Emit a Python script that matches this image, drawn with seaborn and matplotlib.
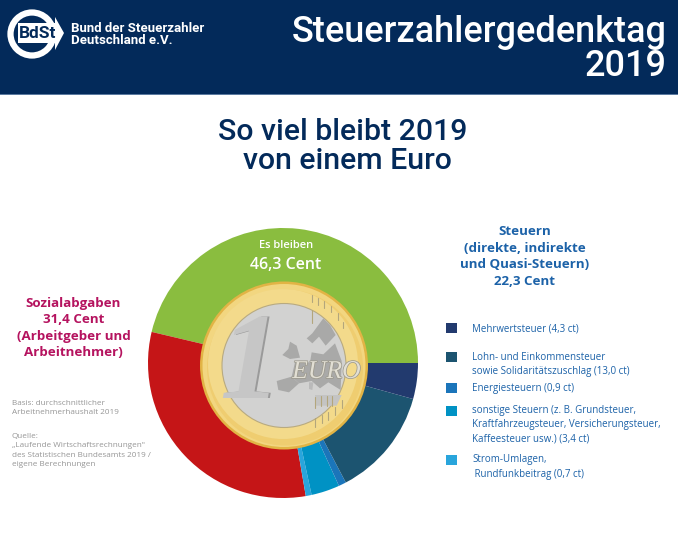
import matplotlib
matplotlib.use("Agg")
import matplotlib.pyplot as plt
import matplotlib.patheffects as pe
from matplotlib.patches import Circle, Polygon, Rectangle
import pandas as pd
import seaborn as sns

# ------------------------------
# Datos
# ------------------------------
segmentos = ["Es bleiben", "Sozialabgaben", "Strom-Umlagen", "sonstige Steuern",
             "Energiesteuern", "Lohn- und Einkommensteuer", "Mehrwertsteuer"]
valores = [46.3, 31.4, 0.7, 3.4, 0.9, 13.0, 4.3]
colores = ["#8abd3f", "#c51517", "#29a5dc", "#0092c4", "#1b75ba", "#1c5470", "#223a6e"]

leyenda_textos = ["Mehrwertsteuer (4,3 ct)",
                  "Lohn- und Einkommensteuer\nsowie Solidaritätszuschlag (13,0 ct)",
                  "Energiesteuern (0,9 ct)",
                  "sonstige Steuern (z. B. Grundsteuer,\nKraftfahrzeugsteuer, Versicherungsteuer,\nKaffeesteuer usw.) (3,4 ct)",
                  "Strom-Umlagen,\n Rundfunkbeitrag (0,7 ct)"]
leyenda_colores = ["#223a6e", "#1c5470", "#1b75ba", "#0092c4", "#29a5dc"]
leyenda_y = [328, 357, 388, 411, 460]
leyenda_y_texto = [329, 364.5, 388, 425, 467]

AZUL = "#032a5a"
TEXTO_AZUL = "#1c62a8"
ROJO = "#b5135f"
GRIS = "#969696"

sns.set_theme(style="white")
plt.rcParams['font.family'] = ['Open Sans', 'DejaVu Sans']

W, H = 678, 541
fig = plt.figure(figsize=(W / 100, H / 100), dpi=100, facecolor="white")

# lienzo en pixeles para todo lo que no es dato
lienzo = fig.add_axes([0, 0, 1, 1], zorder=1)
lienzo.set_xlim(0, W)
lienzo.set_ylim(H, 0)
lienzo.axis("off")

# cabecera
lienzo.add_patch(Rectangle((0, 0), W, 94, color=AZUL, lw=0))
lienzo.add_patch(Rectangle((0, 94), W, 1.2, color="#5b7aa0", lw=0))
lienzo.text(667, 32, "Steuerzahlergedenktag", color="white", family="Roboto", weight="medium",
            fontsize=26, ha="right", va="center")
lienzo.text(667, 66, "2019", color="white", family="Roboto", weight="medium",
            fontsize=26, ha="right", va="center")
lienzo.text(71, 28, "Bund der Steuerzahler", color="white", family="Roboto", weight="bold",
            fontsize=9.55, va="center")
lienzo.text(71, 41, "Deutschland e.V.", color="white", family="Roboto", weight="bold",
            fontsize=9.55, va="center")

# logo
lienzo.add_patch(Circle((32, 34), 21.5, fc=AZUL, ec="white", lw=4.5))
lienzo.add_patch(Polygon([[55, 17], [64, 33], [55, 50]], closed=True, fc="white", lw=0))
lienzo.add_patch(Rectangle((18, 23), 38, 20, fc="white", lw=0))
lienzo.text(37.5, 33.5, "BdSt", color=AZUL, family="Roboto", weight="bold", fontsize=12.5, ha="center", va="center")

# titulo
lienzo.text(343, 132, "So viel bleibt 2019", color=AZUL, family="Roboto", weight="medium",
            fontsize=21.8, ha="center", va="center")
lienzo.text(347, 161, "von einem Euro", color=AZUL, family="Roboto", weight="medium",
            fontsize=21.8, ha="center", va="center")

# donut
tam = 270
dona = fig.add_axes([(283 - tam / 2) / W, 1 - (363 + tam / 2) / H, tam / W, tam / H], zorder=2)
dona.pie(valores, colors=colores, startangle=0, counterclock=True, radius=1,
         wedgeprops={"linewidth": 0}, labels=None)
dona.set_xlim(-1, 1)
dona.set_ylim(-1, 1)
dona.set_aspect("equal")

# moneda, encima del donut
moneda = fig.add_axes([0, 0, 1, 1], zorder=3)
moneda.set_xlim(0, W)
moneda.set_ylim(H, 0)
moneda.axis("off")
cx, cy = 284, 365.5
moneda.add_patch(Circle((cx, cy), 84, fc="#e2b445", lw=0))
moneda.add_patch(Circle((cx, cy), 81.5, fc="#f2d680", lw=0))
moneda.add_patch(Circle((cx + 1, cy + 2), 78, fc="#efcd70", lw=0))
moneda.add_patch(Circle((cx - 1, cy - 1.5), 75, fc="#f3da8b", lw=0))
moneda.add_patch(Circle((cx, cy), 62, fc="#d2d2d1", ec="#b8aa80", lw=0.8))


def zona(puntos, color="#a9a9a8"):
    moneda.add_patch(Polygon([[195 + x / 3, 275 + y / 3] for x, y in puntos], closed=True, fc=color, lw=0))


zona([(262, 240), (280, 222), (285, 200), (305, 212), (315, 248), (285, 252)])
zona([(245, 318), (290, 305), (312, 325), (282, 352), (250, 345)])
zona([(290, 305), (300, 262), (345, 262), (350, 232), (385, 238), (420, 205), (440, 258), (437, 345),
      (400, 322), (375, 340), (350, 318), (312, 325)])
zona([(335, 190), (352, 175), (385, 130), (405, 150), (422, 180), (392, 212), (372, 185), (352, 205)])
zona([(342, 322), (355, 322), (352, 345), (342, 342)], "#bababa")
zona([(360, 360), (440, 360), (425, 392), (362, 392)], "#c4c4c3")

# estrellas y lineas del anillo
for x0, y0, x1, y1 in [(350, 60, 350, 80), (368, 70, 368, 90), (388, 78, 388, 98), (408, 92, 408, 112),
                       (428, 115, 428, 135), (445, 140, 445, 160), (360, 430, 360, 455), (380, 420, 380, 445),
                       (400, 410, 400, 435), (420, 395, 420, 420), (440, 375, 440, 400), (352, 105, 352, 145),
                       (360, 365, 360, 400), (378, 362, 378, 392), (395, 362, 395, 392), (412, 362, 412, 392)]:
    moneda.plot([195 + x0 / 3, 195 + x1 / 3], [275 + y0 / 3, 275 + y1 / 3], color="#b3a67c", lw=0.8)

moneda.text(251.5, 398.5, "1", color="#9a9a9a", family="Liberation Serif", style="italic", weight="bold",
            fontsize=88, ha="center", va="baseline")
moneda.text(250, 398, "1", color="#c6c6c6", family="Liberation Serif", style="italic", weight="bold",
            fontsize=88, ha="center", va="baseline")
moneda.text(326.5, 372, "EURO", color="#e2dfd4", family="Liberation Serif", style="italic",
            fontsize=18.5, ha="center", va="center",
            path_effects=[pe.withStroke(linewidth=1.1, foreground="#9d9a8e")])

# textos del donut
moneda.text(286, 245, "Es bleiben", color="white", weight="semibold", fontsize=8, ha="center", va="center")
moneda.text(286, 265, "46,3 Cent", color="white", weight="semibold", fontsize=11.5, ha="center", va="center")

# bloque izquierdo
lienzo.text(73.5, 328, "Sozialabgaben\n31,4 Cent\n(Arbeitgeber und\nArbeitnehmer)", color=ROJO, weight="bold",
            fontsize=9.6, ha="center", va="center", linespacing=1.36)
lienzo.text(12, 408, "Basis: durchschnittlicher\nArbeitnehmerhaushalt 2019", color=GRIS,
            fontsize=5.9, va="center", linespacing=1.45)
lienzo.text(12, 450.5, "Quelle:\n„Laufende Wirtschaftsrechnungen\"\ndes Statistischen Bundesamts 2019 /\neigene Berechnungen",
            color=GRIS, fontsize=5.9, va="center", linespacing=1.45)

# bloque derecho
lienzo.text(525, 256.5, "Steuern\n(direkte, indirekte\nund Quasi-Steuern)\n22,3 Cent", color=TEXTO_AZUL, weight="bold",
            fontsize=9.6, ha="center", va="center", linespacing=1.36)

# leyenda manual con seaborn
tabla = pd.DataFrame({"x": [451.5] * 5, "y": leyenda_y, "serie": leyenda_textos})
sns.scatterplot(data=tabla, x="x", y="y", hue="serie", palette=leyenda_colores, marker="s", s=62,
                linewidth=0, legend=False, ax=lienzo)
lienzo.set_xlim(0, W)
lienzo.set_ylim(H, 0)
lienzo.axis("off")
for texto, y in zip(leyenda_textos, leyenda_y_texto):
    lienzo.text(472, y, texto, color=TEXTO_AZUL, fontsize=7.05, va="center", linespacing=1.42)

fig.savefig("out.png", dpi=100, facecolor="white")
